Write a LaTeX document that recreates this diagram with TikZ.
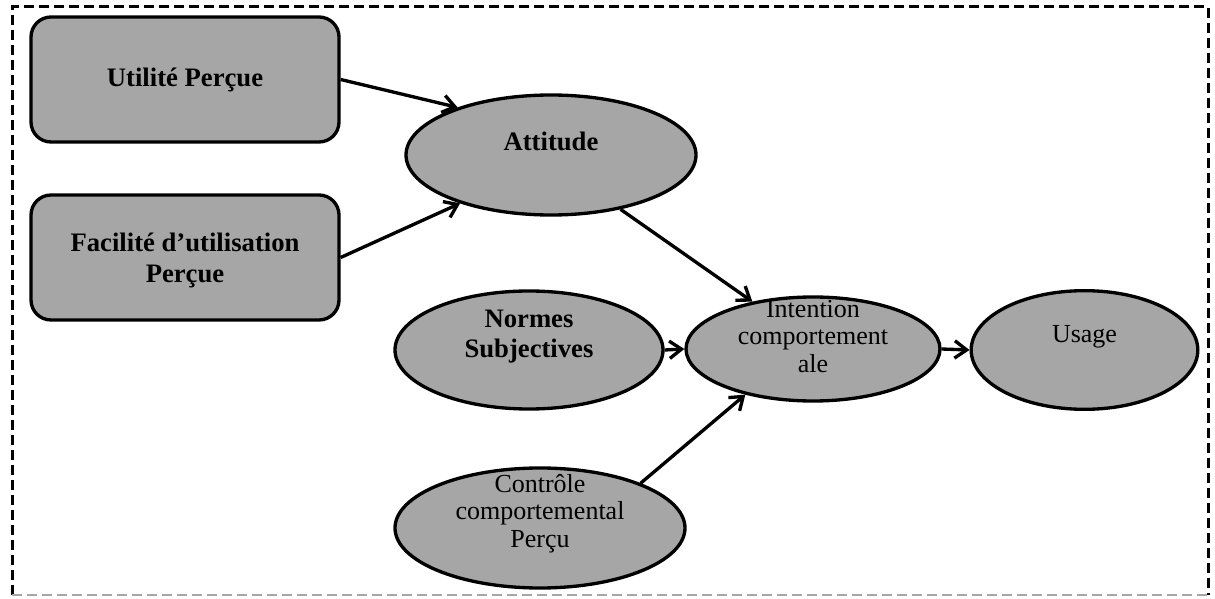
\documentclass[tikz,border=0pt]{standalone}
\usepackage{fontspec}
\setmainfont{Liberation Serif}
\usetikzlibrary{shapes.geometric,arrows.meta}
\definecolor{fillgray}{RGB}{166,166,166}
\tikzset{
  box/.style={draw=black,line width=2.5pt,fill=fillgray,rounded corners=15pt,minimum width=231pt,minimum height=93.75pt,inner sep=0pt},
  oval/.style={draw=black,line width=2.5pt,fill=fillgray,ellipse,inner sep=0pt},
  boldtxt/.style={inner sep=0.75pt,align=center,font=\fontsize{20}{23}\selectfont\bfseries},
  plaintxt/.style={inner sep=0.75pt,align=center,font=\fontsize{19.5}{20.6}\selectfont},
  link/.style={line width=2.5pt,-{Straight Barb[length=9pt,width=13pt]}}
}
\begin{document}
\begin{tikzpicture}[x=0.75pt,y=0.75pt,yscale=-1,xscale=1]
\useasboundingbox (0,0) rectangle (1215,599); %set diagram size to 1215 x 599

%Frame
\draw [line width=2.25pt,dash pattern=on 7.5pt off 3.75pt] (12,595) -- (12,7) -- (1208,7) -- (1208,595) ;
\draw [line width=1pt,color=black!35,dash pattern=on 7.5pt off 3.75pt] (12,595) -- (1208,595) ;

%Rounded Rect
\draw (185,79.5) node (util) [box] {};
%Rounded Rect
\draw (185,257.5) node (facil) [box] {};

%Shape: Ellipse
\draw (551,155) node (att) [oval,minimum width=217.5pt,minimum height=90pt] {};
%Shape: Ellipse
\draw (529,350) node (norm) [oval,minimum width=201pt,minimum height=88.5pt] {};
%Shape: Ellipse
\draw (813,349) node (int) [oval,minimum width=190.5pt,minimum height=78pt] {};
%Shape: Ellipse
\draw (1084.5,350) node (use) [oval,minimum width=170pt,minimum height=89pt] {};
%Shape: Ellipse
\draw (540,528) node (ctl) [oval,minimum width=217.5pt,minimum height=90pt] {};

%Straight Lines
\draw [link] (util.east) -- (att.153) ;
%Straight Lines
\draw [link] (facil.east) -- (att.208) ;
%Straight Lines
\draw [link] (att.-38) -- (int.142) ;
%Straight Lines
\draw [link] (norm.east) -- (int.west) ;
%Straight Lines
\draw [link] (int.east) -- (use.west) ;
%Straight Lines
\draw [link] (ctl.24) -- (int.214) ;

% Text Node
\draw (util.center) node (utilT) [boldtxt] {Utilité Perçue};
% Text Node
\draw ([yshift=2pt]facil.center) node (facilT) [boldtxt] {Facilité d’utilisation\\Perçue};
% Text Node
\draw ([yshift=-10pt]att.center) node (attT) [boldtxt] {Attitude};
% Text Node
\draw ([yshift=-10pt]norm.center) node (normT) [boldtxt] {Normes\\Subjectives};
% Text Node
\draw ([yshift=-9.5pt]int.center) node (intT) [plaintxt] {Intention\\comportement\\ale};
% Text Node
\draw ([yshift=-10pt]use.center) node (useT) [plaintxt] {Usage};
% Text Node
\draw ([yshift=-11pt]ctl.center) node (ctlT) [plaintxt] {Contrôle\\comportemental\\Perçu};

\end{tikzpicture}
\end{document}
